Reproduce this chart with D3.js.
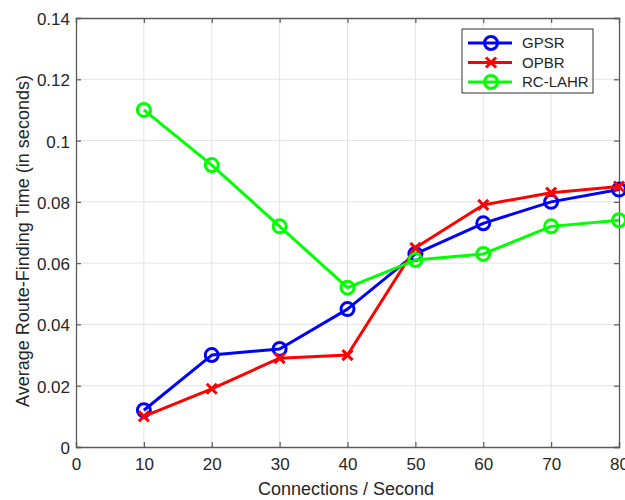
<!DOCTYPE html>
<html>
<head>
<meta charset="utf-8">
<script src="https://cdn.jsdelivr.net/npm/d3@7"></script>
<style>
body { margin: 0; background: #fff; }
svg { font-family: "Liberation Sans", Arial, sans-serif; }
</style>
</head>
<body>
<div id="chart"></div>
<script>

const xVals = [10, 20, 30, 40, 50, 60, 70, 80]
const gpsr = [0.012, 0.030, 0.032, 0.045, 0.063, 0.073, 0.080, 0.084]
const opbr = [0.010, 0.019, 0.029, 0.030, 0.065, 0.079, 0.083, 0.085]
const rclahr = [0.110, 0.092, 0.072, 0.052, 0.061, 0.063, 0.072, 0.074]
const xTicks = [0, 10, 20, 30, 40, 50, 60, 70, 80]
const yTicks = [0, 0.02, 0.04, 0.06, 0.08, 0.1, 0.12, 0.14]

const series = [
  { name: "GPSR", values: gpsr, color: "#0000ff", marker: "circle" },
  { name: "OPBR", values: opbr, color: "#ff0000", marker: "cross" },
  { name: "RC-LAHR", values: rclahr, color: "#00ff00", marker: "circle" }
]

const config = { top: 18, right: 6, bottom: 53, left: 76 }
const width = 625, height = 500

const svg = d3.select('#chart').append('svg').attr('width', width).attr('height', height)

const x = d3.scaleLinear().domain([0, 80]).range([config.left, width - config.right])
const y = d3.scaleLinear().domain([0, 0.14]).range([height - config.bottom, config.top])

const axisCol = "#5a5a5a"
const textCol = "#262626"

// grid
svg.append('g').selectAll('line').data(xTicks.slice(1, -1)).enter().append('line')
  .attr('x1', d => x(d)).attr('x2', d => x(d))
  .attr('y1', y(0)).attr('y2', y(0.14))
  .attr('stroke', '#e3e3e3').attr('stroke-width', 1)
svg.append('g').selectAll('line').data(yTicks.slice(1, -1)).enter().append('line')
  .attr('y1', d => y(d)).attr('y2', d => y(d))
  .attr('x1', x(0)).attr('x2', x(80))
  .attr('stroke', '#e3e3e3').attr('stroke-width', 1)

// axes
const fmt = d => d === 0 ? "0" : String(+d.toFixed(2))

const gx = svg.append('g').attr('transform', `translate(0,${y(0)})`)
  .call(d3.axisBottom(x).tickValues(xTicks).tickSize(-5).tickPadding(11).tickFormat(d3.format('d')))
const gy = svg.append('g').attr('transform', `translate(${x(0)},0)`)
  .call(d3.axisLeft(y).tickValues(yTicks).tickSize(-5).tickPadding(6).tickFormat(fmt))
const gxt = svg.append('g').attr('transform', `translate(0,${y(0.14)})`)
  .call(d3.axisTop(x).tickValues(xTicks).tickSize(-5).tickFormat(''))
const gyr = svg.append('g').attr('transform', `translate(${x(80)},0)`)
  .call(d3.axisRight(y).tickValues(yTicks).tickSize(-5).tickFormat(''))

;[gx, gy, gxt, gyr].forEach(g => {
  g.selectAll('.domain').attr('stroke', axisCol).attr('stroke-width', 1.3)
  g.selectAll('.tick line').attr('stroke', axisCol).attr('stroke-width', 1.2)
  g.selectAll('.tick text').attr('fill', textCol).style('font-size', '17px')
})
gy.selectAll('.tick text').attr('dy', '0.38em')

// lines
const lineGenerator = d3.line().x((d, i) => x(xVals[i])).y(d => y(d))

series.forEach(function (s) {
  svg.append('path').datum(s.values)
    .attr('d', lineGenerator)
    .attr('fill', 'none')
    .attr('stroke', s.color)
    .attr('stroke-width', 3)
    .attr('stroke-linejoin', 'round')

  const g = svg.append('g')
  s.values.forEach(function (v, i) {
    drawMarker(g, x(xVals[i]), y(v), s)
  })
})

function drawMarker(g, cx, cy, s) {
  if (s.marker === "circle") {
    g.append('circle').attr('cx', cx).attr('cy', cy).attr('r', 6.5)
      .attr('fill', 'none').attr('stroke', s.color).attr('stroke-width', 3)
  } else {
    const r = 5
    g.append('path')
      .attr('d', `M${cx - r},${cy - r}L${cx + r},${cy + r}M${cx - r},${cy + r}L${cx + r},${cy - r}`)
      .attr('stroke', s.color).attr('stroke-width', 3)
  }
}

// legend
const lg = svg.append('g').attr('transform', 'translate(462,29)')
lg.append('rect').attr('width', 131).attr('height', 64)
  .attr('fill', '#fff').attr('stroke', '#333').attr('stroke-width', 1)

series.forEach(function (s, i) {
  const ly = 14 + i * 19.5
  lg.append('line').attr('x1', 6).attr('x2', 50).attr('y1', ly).attr('y2', ly)
    .attr('stroke', s.color).attr('stroke-width', 3)
  drawMarker(lg, 29, ly, s)
  lg.append('text').attr('x', 60).attr('y', ly).attr('dy', '0.36em')
    .attr('fill', textCol).style('font-size', '15px').text(s.name)
})

// axis labels
svg.append('text')
  .attr('x', 346).attr('y', 495)
  .attr('text-anchor', 'middle').attr('fill', textCol).style('font-size', '18px')
  .text('Connections / Second')

svg.append('text')
  .attr('transform', `translate(29,241) rotate(-90)`)
  .attr('text-anchor', 'middle').attr('fill', textCol).style('font-size', '18px')
  .text('Average Route-Finding Time (in seconds)')

</script>
</body>
</html>
